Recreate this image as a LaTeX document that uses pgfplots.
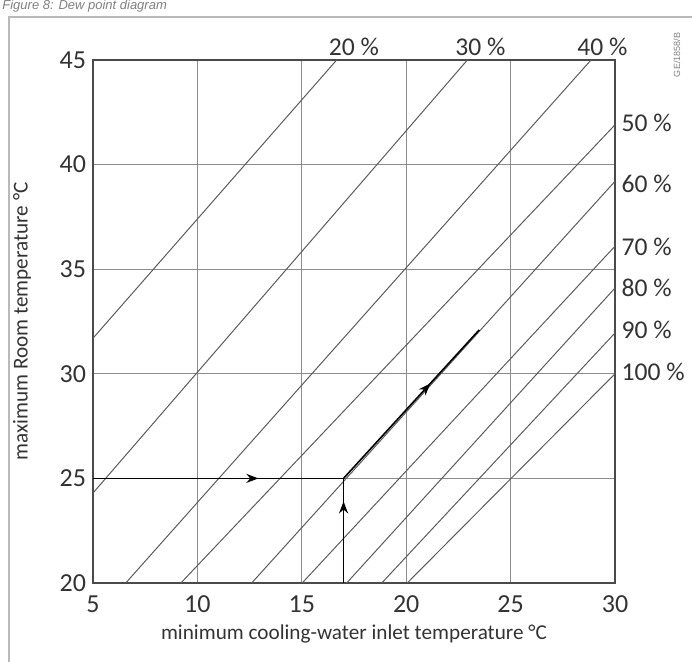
\documentclass[border=0pt]{standalone}
\usepackage{fontspec}
\setmainfont{Carlito}
\newfontfamily\arialfont{Liberation Sans}
\usepackage{pgfplots}
\pgfplotsset{compat=1.18}
\usetikzlibrary{decorations.markings,arrows.meta}

\definecolor{gridgray}{HTML}{8C8C8C}
\definecolor{linegray}{HTML}{5C5C5C}
\definecolor{framegray}{HTML}{4A4A4A}
\definecolor{textgray}{HTML}{333333}

\tikzset{midarrow/.style={postaction={decorate},
  decoration={markings,mark=at position #1 with {\arrow{Stealth[length=6pt,width=4.5pt]}}}},
  pct/.style={font=\fontsize{12.8}{13}\selectfont, text=textgray, inner sep=1pt}}

\begin{document}
\begin{tikzpicture}
\useasboundingbox (-46.5pt,-39.5pt) rectangle (299.5pt,291.5pt);
% outer frame of the figure
\draw[gray!55, line width=0.8pt] (-42pt,-45pt) -- (-42pt,283pt) -- (305pt,283pt);
\node[anchor=base west, font=\arialfont\itshape\fontsize{6.5}{7}\selectfont, text=gray, inner sep=0]
  at (-45.5pt,286.6pt) {Figure 8: Dew point diagram};
\node[rotate=90, font=\arialfont\fontsize{4.5}{5}\selectfont, text=gray] at (292pt,264pt) {GE/1858/B};

\begin{axis}[at={(0,0)}, anchor=south west, scale only axis,
  width=261pt, height=261.5pt,
  xmin=5, xmax=30, ymin=20, ymax=45,
  xtick={5,10,...,30}, ytick={20,25,...,45},
  major tick length=0pt,
  grid=major, major grid style={gridgray, line width=0.5pt},
  axis line style={framegray, line width=1pt},
  tick label style={font=\fontsize{13}{14}\selectfont, text=textgray},
  xticklabel style={yshift=-3pt},
  /pgf/number format/assume math mode=true,
  xlabel={minimum cooling-water inlet temperature °C},
  ylabel={maximum Room temperature °C},
  label style={font=\fontsize{10.6}{12}\selectfont, text=textgray},
  xlabel style={at={(axis description cs:0.5,-0.0975)}, anchor=center},
  ylabel style={at={(axis description cs:-0.136,0.5)}, anchor=center},
  clip mode=individual,
]
% relative humidity lines
\addplot[linegray, line width=0.5pt] coordinates {(5,31.7) (16.67,45)};
\addplot[linegray, line width=0.5pt] coordinates {(5,24.3) (22.93,45)};
\addplot[linegray, line width=0.5pt] coordinates {(6.57,20) (28.85,45)};
\addplot[linegray, line width=0.5pt] coordinates {(9.21,20) (30,41.9)};
\addplot[linegray, line width=0.5pt] coordinates {(12.60,20) (30,39.2)};
\addplot[linegray, line width=0.5pt] coordinates {(15.02,20) (30,36.1)};
\addplot[linegray, line width=0.5pt] coordinates {(17.15,20) (30,34.1)};
\addplot[linegray, line width=0.5pt] coordinates {(18.83,20) (30,31.95)};
\addplot[linegray, line width=0.5pt] coordinates {(20.05,20) (30,30)};

% example reading
\addplot[black, line width=0.8pt, midarrow=0.66] coordinates {(5,25) (17,25)};
\addplot[black, line width=0.8pt, midarrow=0.78] coordinates {(17,20) (17,25)};
\addplot[black, line width=0.8pt, midarrow=0.64] coordinates {(17,25) (23.5,32.1)};

\node[pct] at (axis cs:17.5,45.64) {20~\%};
\node[pct] at (axis cs:23.55,45.64) {30~\%};
\node[pct] at (axis cs:29.40,45.64) {40~\%};
\node[pct, anchor=west] at (axis cs:30.2,42.0) {50~\%};
\node[pct, anchor=west] at (axis cs:30.2,39.07) {60~\%};
\node[pct, anchor=west] at (axis cs:30.2,36.05) {70~\%};
\node[pct, anchor=west] at (axis cs:30.2,34.13) {80~\%};
\node[pct, anchor=west] at (axis cs:30.2,32.08) {90~\%};
\node[pct, anchor=west] at (axis cs:30.2,30.10) {100~\%};
\end{axis}
\end{tikzpicture}
\end{document}
